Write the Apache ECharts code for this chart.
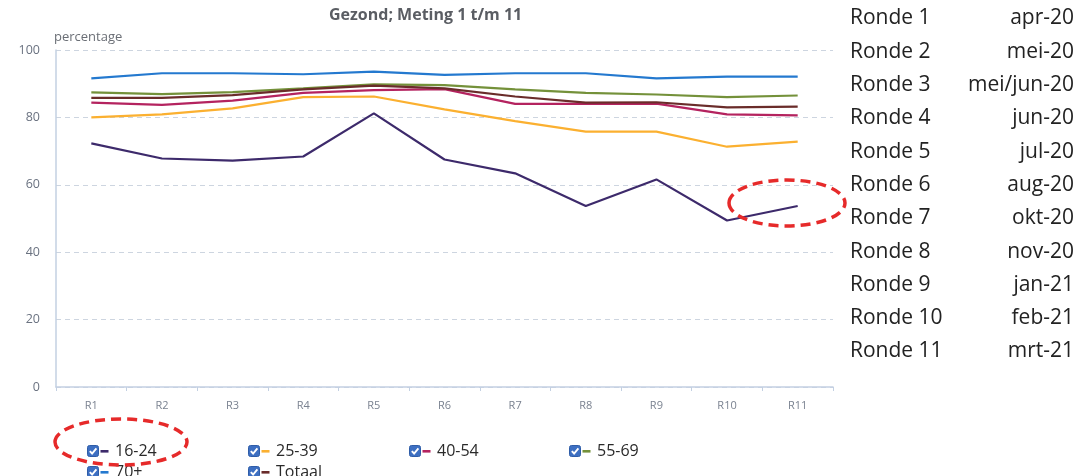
<!DOCTYPE html>
<html>
<head>
<meta charset="utf-8">
<script src="https://cdn.jsdelivr.net/npm/echarts@6/dist/echarts.min.js"></script>
<style>
  html, body { margin: 0; padding: 0; background: #fff; }
  #chart { width: 1090px; height: 476px; }
</style>
</head>
<body>
<div id="chart"></div>
<script>
// Meetronden en percentages "gezond" per leeftijdsgroep
const rondes = ['R1', 'R2', 'R3', 'R4', 'R5', 'R6', 'R7', 'R8', 'R9', 'R10', 'R11'];
const yTicks = [0, 20, 40, 60, 80, 100];

const g16_24 = [72.3, 67.8, 67.2, 68.4, 81.2, 67.5, 63.4, 53.7, 61.6, 49.4, 53.7];
const g25_39 = [80.0, 80.9, 82.7, 86.0, 86.2, 82.4, 78.9, 75.8, 75.8, 71.3, 72.8];
const g40_54 = [84.4, 83.7, 85.0, 87.3, 88.1, 88.4, 84.0, 84.0, 84.1, 80.9, 80.6];
const g55_69 = [87.4, 86.9, 87.5, 88.6, 89.8, 89.6, 88.3, 87.3, 86.8, 86.0, 86.5];
const g70plus = [91.6, 93.1, 93.1, 92.8, 93.6, 92.6, 93.1, 93.1, 91.6, 92.1, 92.1];
const totaal = [85.8, 85.8, 86.6, 88.3, 89.4, 88.6, 86.2, 84.4, 84.5, 83.0, 83.2];

const seriesNames = ['16-24', '25-39', '40-54', '55-69', '70+', 'Totaal'];
const seriesData = [g16_24, g25_39, g40_54, g55_69, g70plus, totaal];
const seriesColors = ['#3d2a6b', '#fbb030', '#b4235f', '#74913a', '#2479cf', '#6a2c2a'];

// Legenda rechts: ronde en bijbehorende maand
const rondeNamen = ['Ronde 1', 'Ronde 2', 'Ronde 3', 'Ronde 4', 'Ronde 5', 'Ronde 6',
  'Ronde 7', 'Ronde 8', 'Ronde 9', 'Ronde 10', 'Ronde 11'];
const rondeMaanden = ['apr-20', 'mei-20', 'mei/jun-20', 'jun-20', 'jul-20', 'aug-20',
  'okt-20', 'nov-20', 'jan-21', 'feb-21', 'mrt-21'];

const FONT = '"Open Sans", "Noto Sans", sans-serif';

// Legend icon: ticked checkbox followed by a short dash in the series colour
function checkboxIcon(color) {
  const svg = "<svg xmlns='http://www.w3.org/2000/svg' width='24' height='12' viewBox='0 0 24 12'>" +
    "<rect x='0.5' y='0.5' width='11' height='11' rx='2' fill='#3d6fc2' stroke='#2f5da8'/>" +
    "<path d='M2.8 6.1 L5.1 8.5 L9.4 3.4' fill='none' stroke='#ffffff' stroke-width='1.9'/>" +
    "<rect x='13.5' y='5' width='8' height='2.6' fill='" + color + "'/></svg>";
  return 'image://data:image/svg+xml;charset=utf-8,' + encodeURIComponent(svg);
}

// Legend layout: two rows, fixed columns
const legendPos = [[87, 443], [248, 443], [409, 443], [569, 443], [87, 464], [248, 464]];
const legends = seriesNames.map((name, i) => ({
  left: legendPos[i][0],
  top: legendPos[i][1],
  orient: 'horizontal',
  selectedMode: false,
  itemWidth: 24,
  itemHeight: 12,
  padding: 0,
  data: [{ name: name, icon: checkboxIcon(seriesColors[i]) }],
  textStyle: { fontFamily: FONT, fontSize: 16, color: '#2a2a2a', padding: [0, 0, 0, -1] }
}));

const rightTexts = [];
rondeNamen.forEach((r, i) => {
  const y = 17 + i * 33.3;
  rightTexts.push({
    type: 'text', left: 850, top: y - 9,
    style: { text: r, font: '21px ' + FONT, fill: '#222' }
  });
  rightTexts.push({
    type: 'text', right: 16, top: y - 9,
    style: { text: rondeMaanden[i], font: '21px ' + FONT, fill: '#222', align: 'right' }
  });
});

const chart = echarts.init(document.getElementById('chart'), null, { renderer: 'canvas' });
chart.setOption({
  animation: false,
  backgroundColor: '#ffffff',
  title: {
    text: 'Gezond; Meting 1 t/m 11',
    left: 324, top: 2,
    textStyle: { fontFamily: FONT, fontSize: 16, fontWeight: 'bold', color: '#5a5d63' }
  },
  legend: legends,
  grid: { left: 56, right: 257, top: 50, bottom: 89, containLabel: false },
  xAxis: {
    type: 'category',
    data: rondes,
    boundaryGap: true,
    axisLine: { lineStyle: { color: '#c3d0e2', width: 1.5 } },
    axisTick: { show: true, length: 4, lineStyle: { color: '#c3d0e2' } },
    axisLabel: { fontFamily: FONT, fontSize: 11, color: '#7a8290', margin: 13 },
    splitLine: { show: false }
  },
  yAxis: {
    type: 'value',
    min: yTicks[0], max: yTicks[yTicks.length - 1], interval: 20,
    name: 'percentage',
    nameLocation: 'end',
    nameGap: 6,
    nameTextStyle: { fontFamily: FONT, fontSize: 13, color: '#6a6e75', align: 'left', padding: [0, 0, 0, -2] },
    axisLine: { show: true, lineStyle: { color: '#c3d0e2', width: 1.5 } },
    axisTick: { show: false },
    axisLabel: { fontFamily: FONT, fontSize: 12.5, color: '#6a7280', margin: 16 },
    splitLine: { show: true, lineStyle: { color: '#cdd5e0', type: [5, 4], width: 1 } }
  },
  series: seriesNames.map((name, i) => ({
    name: name,
    type: 'line',
    data: seriesData[i],
    symbol: 'none',
    smooth: false,
    z: i === 0 ? 3 : 2,
    lineStyle: { color: seriesColors[i], width: 2.2 },
    itemStyle: { color: seriesColors[i] }
  })),
  graphic: rightTexts.concat([
    {
      type: 'ellipse',
      shape: { cx: 121, cy: 442, rx: 66, ry: 23 },
      style: { fill: 'none', stroke: '#e62a2a', lineWidth: 3.5, lineDash: [10, 6] },
      z: 100
    },
    {
      type: 'ellipse',
      shape: { cx: 787, cy: 203, rx: 58, ry: 23 },
      style: { fill: 'none', stroke: '#e62a2a', lineWidth: 3.5, lineDash: [10, 6] },
      z: 100
    }
  ])
});
</script>
</body>
</html>
